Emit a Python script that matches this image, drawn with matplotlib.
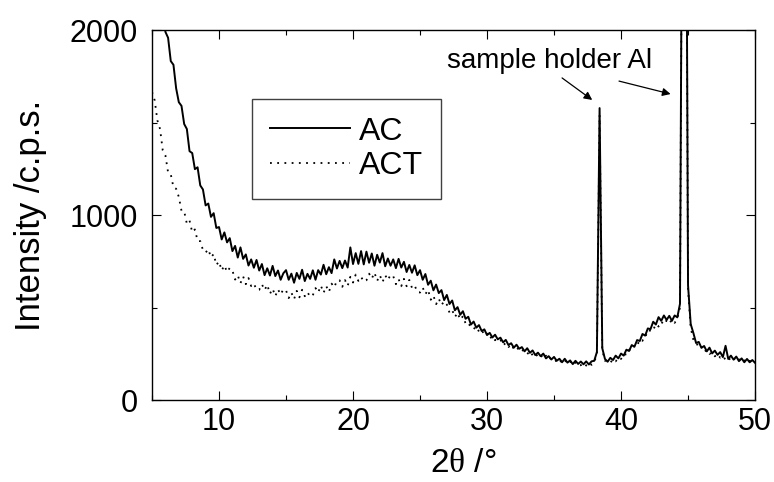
import numpy as np
import matplotlib
matplotlib.use('Agg')
import matplotlib.pyplot as plt
from matplotlib.ticker import MultipleLocator

# ─────────────────────────────────────────
# DATA  (0.2 deg steps from 5 to 50)
# ─────────────────────────────────────────

TWO_THETA = np.round(np.arange(5.0, 50.0001, 0.2), 1)

AC = [
    2620, 2455, 2395, 2228, 2128, 1990, 1958, 1832, 1812, 1685,   # 5.0 - 6.8
    1610, 1590, 1492, 1465, 1345, 1335, 1248, 1258, 1160, 1138,   # 7.0 - 8.8
    1052, 1062, 990, 1010, 930, 935, 868, 906, 852, 875,          # 9.0 - 10.8
    805, 833, 770, 825, 763, 787, 727, 760, 715, 757,             # 11.0 - 12.8
    700, 735, 675, 712, 673, 725, 670, 700, 650, 685,             # 13.0 - 14.8
    702, 650, 683, 634, 687, 655, 704, 643, 682, 655,             # 15.0 - 16.8
    701, 650, 702, 678, 731, 680, 718, 686, 760, 711,             # 17.0 - 18.8
    752, 713, 754, 716, 825, 735, 794, 736, 805, 733,             # 19.0 - 20.8
    802, 742, 792, 726, 785, 743, 794, 723, 765, 726,             # 21.0 - 22.8
    760, 713, 763, 716, 747, 692, 730, 688, 728, 675,             # 23.0 - 24.8
    702, 650, 681, 623, 645, 593, 624, 578, 594, 540,             # 25.0 - 26.8
    568, 519, 538, 485, 502, 461, 480, 439, 450, 408,             # 27.0 - 28.8
    424, 391, 405, 373, 382, 351, 363, 338, 353, 328,             # 29.0 - 30.8
    337, 312, 325, 297, 307, 283, 299, 277, 286, 263,             # 31.0 - 32.8
    280, 255, 268, 243, 256, 237, 251, 225, 237, 219,             # 33.0 - 34.8
    233, 212, 223, 204, 223, 202, 214, 194, 212, 195,             # 35.0 - 36.8
    208, 193, 209, 192, 209, 212, 260, 1578, 280, 222,            # 37.0 - 38.8
    207, 228, 216, 240, 225, 251, 240, 272, 265, 297,             # 39.0 - 40.8
    288, 324, 319, 357, 348, 387, 383, 423, 408, 448,             # 41.0 - 42.8
    428, 457, 433, 455, 428, 457, 447, 520, 3600, 4200,           # 43.0 - 44.8
    620, 410, 362, 308, 314, 282, 292, 263, 283, 252,             # 45.0 - 46.8
    267, 244, 259, 232, 293, 222, 240, 218, 235, 210,             # 47.0 - 48.8
    225, 204, 222, 204, 216, 201,                                 # 49.0 - 50.0
]

ACT = [
    1665, 1620, 1512, 1465, 1350, 1322, 1230, 1220, 1150, 1142,
    1098, 1023, 1020, 953, 970, 907, 922, 861, 859, 811,
    797, 815, 771, 789, 730, 749, 700, 728, 692, 714,
    700, 651, 674, 631, 668, 626, 659, 616, 630, 596,
    596, 626, 594, 623, 574, 602, 561, 598, 570, 599,
    593, 551, 581, 545, 590, 555, 596, 561, 583, 558,
    566, 605, 581, 619, 579, 616, 584, 629, 609, 646,
    647, 612, 648, 617, 666, 635, 678, 644, 666, 640,
    647, 683, 656, 689, 644, 675, 637, 675, 648, 677,
    670, 626, 654, 615, 655, 615, 649, 606, 619, 584,
    581, 608, 572, 596, 542, 565, 518, 548, 513, 534,
    516, 472, 487, 448, 472, 434, 453, 414, 420, 389,
    384, 397, 370, 381, 349, 359, 331, 346, 323, 334,
    325, 296, 308, 286, 302, 276, 288, 267, 276, 253,
    248, 265, 242, 254, 232, 244, 222, 240, 218, 229,
    226, 205, 218, 201, 216, 197, 209, 189, 203, 187,
    188, 201, 186, 202, 190, 203, 250, 1540, 270, 212,
    213, 201, 221, 209, 230, 222, 249, 245, 272, 266,
    297, 293, 327, 320, 353, 348, 384, 379, 410, 397,
    424, 407, 430, 413, 435, 417, 441, 500, 3500, 4100,
    600, 390, 325, 315, 280, 287, 260, 271, 249, 257,
    236, 249, 229, 239, 217, 230, 213, 228, 209, 220,
    202, 214, 200, 212, 198, 204,
]

SERIES_LABELS = ['AC', 'ACT']
NOTE_TEXT = 'sample holder Al'
NOTE_POS = (27.0, 1795)
ARROWS = [((35.6, 1741), (37.85, 1622)),
          ((39.85, 1724), (43.7, 1654))]

# ─────────────────────────────────────────
# STYLE
# ─────────────────────────────────────────

plt.rcParams['font.family'] = ['Liberation Sans', 'DejaVu Sans']
plt.rcParams['mathtext.fontset'] = 'custom'
plt.rcParams['mathtext.rm'] = 'Liberation Serif'
plt.rcParams['mathtext.it'] = 'Liberation Serif'


def plot_xrd():
    fig = plt.figure(figsize=(7.74, 4.82), dpi=100)
    ax = fig.add_axes([0.1964, 0.1701, 0.7791, 0.7676])

    ax.plot(TWO_THETA, AC, color='black', linewidth=1.4, label=SERIES_LABELS[0])
    ax.plot(TWO_THETA, ACT, color='black', linewidth=1.3,
            linestyle=(0, (1, 3)), label=SERIES_LABELS[1])

    ax.set_xlim(5, 50)
    ax.set_ylim(0, 2000)
    ax.xaxis.set_major_locator(MultipleLocator(10))
    ax.xaxis.set_minor_locator(MultipleLocator(5))
    ax.yaxis.set_major_locator(MultipleLocator(1000))
    ax.yaxis.set_minor_locator(MultipleLocator(500))

    ax.tick_params(which='both', direction='in', top=True, right=True, width=0.8)
    ax.tick_params(which='major', length=6.5)
    ax.tick_params(which='minor', length=3.6)
    ax.tick_params(axis='x', labelsize=22, pad=5)
    ax.tick_params(axis='y', labelsize=22, pad=10)
    for sp in ax.spines.values():
        sp.set_linewidth(1.0)

    ax.set_xlabel('2$\\theta$ /°', fontsize=24)
    ax.set_ylabel('Intensity /c.p.s.', fontsize=25)
    ax.xaxis.set_label_coords(0.516, -0.13)
    ax.yaxis.set_label_coords(-0.174, 0.5)

    leg = ax.legend(loc='upper left', bbox_to_anchor=(0.166, 0.8135),
                    borderaxespad=0, fontsize=23, handlelength=2.5,
                    handletextpad=0.3, borderpad=0.55, labelspacing=0.15,
                    fancybox=False, framealpha=1)
    leg.get_frame().set_edgecolor('#404040')
    leg.get_frame().set_linewidth(1.0)

    ax.text(*NOTE_POS, NOTE_TEXT, fontsize=20, ha='left', va='baseline')
    for start, end in ARROWS:
        ax.annotate('', xy=end, xytext=start,
                    arrowprops=dict(arrowstyle='-|>', color='black', lw=0.9,
                                    mutation_scale=12, shrinkA=0, shrinkB=0))

    fig.savefig('out.png', dpi=100)


if __name__ == '__main__':
    plot_xrd()
